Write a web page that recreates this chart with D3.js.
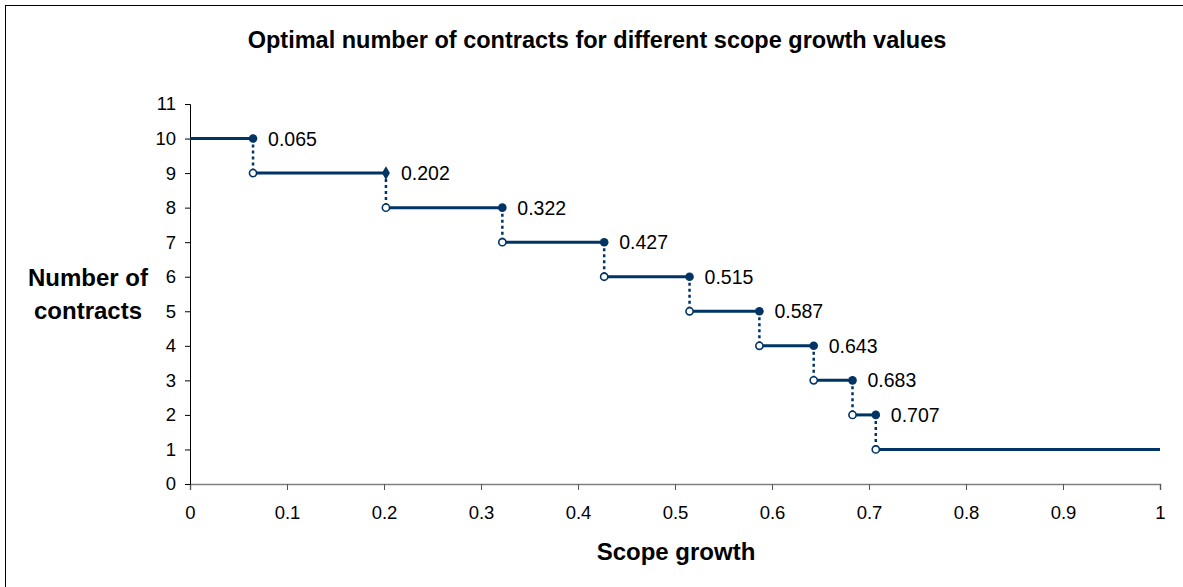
<!DOCTYPE html>
<html>
<head>
<meta charset="utf-8">
<script src="https://cdn.jsdelivr.net/npm/d3@7"></script>
<style>
  body { margin: 0; background: #fff; }
  text { font-family: "Liberation Sans", Arial, sans-serif; }
</style>
</head>
<body>
<script>
// data
var thresholds = [0.065, 0.202, 0.322, 0.427, 0.515, 0.587, 0.643, 0.683, 0.707];
var contracts = [10, 9, 8, 7, 6, 5, 4, 3, 2];
var xTicks = [0, 0.1, 0.2, 0.3, 0.4, 0.5, 0.6, 0.7, 0.8, 0.9, 1];
var yTicks = [0, 1, 2, 3, 4, 5, 6, 7, 8, 9, 10, 11];

var W = 1183, H = 587;
var margin = {top: 104, right: 23, bottom: 103, left: 190};
var width = W - margin.left - margin.right,
    height = H - margin.top - margin.bottom;
var navy = "#003366";

var svg = d3.select("body").append("svg")
    .attr("width", W)
    .attr("height", H);

// frame
svg.append("rect")
    .attr("x", 5.5).attr("y", 5.5)
    .attr("width", W + 20).attr("height", H + 20)
    .attr("fill", "none").attr("stroke", "#000").attr("stroke-width", 1);

var g = svg.append("g").attr("transform", "translate(" + margin.left + "," + margin.top + ")");

var x = d3.scaleLinear().domain([0, 1]).range([0, width]);
var y = d3.scaleLinear().domain([0, 11]).range([height, 0]);

// axes
var xAxis = g.append("g")
    .attr("transform", "translate(0," + height + ")")
    .call(d3.axisBottom(x).tickValues(xTicks).tickSize(6).tickPadding(16)
      .tickFormat(function(d){ return String(+d.toFixed(1)); }));
xAxis.select(".domain").attr("stroke", "#808080").attr("stroke-width", 1.5);
xAxis.selectAll(".tick line").attr("stroke", "#555");
xAxis.selectAll("text").attr("font-size", 18.5).attr("fill", "#000")
    .style("font-family", "'Liberation Sans', Arial, sans-serif");

var yAxis = g.append("g")
    .call(d3.axisLeft(y).tickValues(yTicks).tickSize(5).tickPadding(9).tickSizeOuter(5));
yAxis.select(".domain").attr("stroke", "#000");
yAxis.selectAll("text").attr("font-size", 18.5).attr("fill", "#000")
    .style("font-family", "'Liberation Sans', Arial, sans-serif");

// steps: horizontal segment for each contract level
var starts = [0].concat(thresholds);
var ends = thresholds.concat([1]);
var levels = contracts.concat([1]);

g.selectAll(".step").data(levels).enter().append("line")
    .attr("class", "step")
    .attr("x1", function(d, i){ return x(starts[i]); })
    .attr("x2", function(d, i){ return x(ends[i]); })
    .attr("y1", function(d){ return y(d); })
    .attr("y2", function(d){ return y(d); })
    .attr("stroke", navy).attr("stroke-width", 3);

// dotted drop lines
g.selectAll(".drop").data(thresholds).enter().append("line")
    .attr("x1", function(d){ return x(d); })
    .attr("x2", function(d){ return x(d); })
    .attr("y1", function(d, i){ return y(contracts[i]); })
    .attr("y2", function(d, i){ return y(contracts[i] - 1); })
    .attr("stroke", navy).attr("stroke-width", 2.5)
    .attr("stroke-dasharray", "3,3");

// open circles at the lower level
g.selectAll(".open").data(thresholds).enter().append("circle")
    .attr("cx", function(d){ return x(d); })
    .attr("cy", function(d, i){ return y(contracts[i] - 1); })
    .attr("r", 3.6)
    .attr("fill", "#fff").attr("stroke", navy).attr("stroke-width", 1.6);

// filled markers at the upper level
g.selectAll(".closed").data(thresholds).enter().append("path")
    .attr("transform", function(d, i){ return "translate(" + x(d) + "," + y(contracts[i]) + ")"; })
    .attr("d", function(d, i){
      return d3.symbol().type(i === 1 ? d3.symbolDiamond : d3.symbolCircle).size(i === 1 ? 55 : 58)();
    })
    .attr("fill", navy);

// value labels
g.selectAll(".lbl").data(thresholds).enter().append("text")
    .attr("x", function(d){ return x(d) + 15; })
    .attr("y", function(d, i){ return y(contracts[i]) + 7; })
    .attr("font-size", 19.5)
    .text(function(d){ return d3.format(".3f")(d); });

// titles
svg.append("text")
    .attr("x", 597).attr("y", 48)
    .attr("text-anchor", "middle")
    .attr("font-size", 23.5).attr("font-weight", "bold")
    .text("Optimal number of contracts for different scope growth values");

svg.append("text")
    .attr("x", 676).attr("y", 560)
    .attr("text-anchor", "middle")
    .attr("font-size", 24).attr("font-weight", "bold")
    .text("Scope growth");

var yt = svg.append("text")
    .attr("text-anchor", "middle")
    .attr("font-size", 24).attr("font-weight", "bold");
yt.append("tspan").attr("x", 88).attr("y", 286).text("Number of");
yt.append("tspan").attr("x", 88).attr("y", 319).text("contracts");
</script>
</body>
</html>
